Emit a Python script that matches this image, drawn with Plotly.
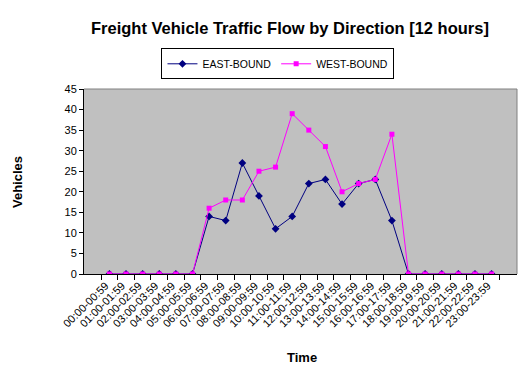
import plotly.graph_objects as go

categories = [f"{h:02d}:00-{h:02d}:59" for h in range(24)]
east_bound = [0, 0, 0, 0, 0, 0, 14, 13, 27, 19, 11, 14, 22, 23, 17, 22, 23, 13, 0, 0, 0, 0, 0, 0]
west_bound = [0, 0, 0, 0, 0, 0, 16, 18, 18, 25, 26, 39, 35, 31, 20, 22, 23, 34, 0, 0, 0, 0, 0, 0]
y_ticks = list(range(0, 50, 5))

fig = go.Figure()
fig.add_trace(go.Scatter(x=categories, y=east_bound, name="EAST-BOUND", mode="lines+markers",
                         line=dict(color="#000080", width=1),
                         marker=dict(symbol="diamond", size=6, color="#000080")))
fig.add_trace(go.Scatter(x=categories, y=west_bound, name="WEST-BOUND", mode="lines+markers",
                         line=dict(color="#FF00FF", width=1),
                         marker=dict(symbol="square", size=5, color="#FF00FF")))

FONT = "Arial, Liberation Sans"
fig.update_layout(
    width=530, height=375,
    margin=dict(l=84, r=13, t=89, b=101),
    paper_bgcolor="white", plot_bgcolor="#C0C0C0",
    font=dict(family=FONT, size=10, color="black"),
    legend=dict(orientation="h", x=0.448, xanchor="center", y=1.22, yanchor="top",
                bordercolor="black", borderwidth=1, bgcolor="white",
                font=dict(size=10.5), tracegroupgap=0),
    showlegend=True,
)
fig.update_xaxes(
    type="category", showline=True, linecolor="black", linewidth=1, mirror=False,
    ticks="outside", ticklen=5, tickcolor="black", tickson="boundaries",
    tickangle=-45, showgrid=False, tickfont=dict(size=11), automargin=False,
    ticklabelshift=-4,
)
fig.update_yaxes(
    range=[0, 45], tickvals=y_ticks, showline=True, linecolor="black", linewidth=1,
    ticks="outside", ticklen=4, tickcolor="black", showgrid=False, zeroline=False,
    tickfont=dict(size=11), automargin=False,
)
# titles
fig.add_annotation(text="<b>Freight Vehicle Traffic Flow by Direction [12 hours]</b>",
                   xref="paper", yref="paper", x=(290 - 84) / 433, y=1 + (89 - 28) / 185,
                   xanchor="center", yanchor="middle", showarrow=False,
                   font=dict(size=16.5, family=FONT))
fig.add_annotation(text="<b>Time</b>", xref="paper", yref="paper",
                   x=(302 - 84) / 433, y=-(357 - 274) / 185,
                   xanchor="center", yanchor="middle", showarrow=False,
                   font=dict(size=13, family=FONT))
fig.add_annotation(text="<b>Vehicles</b>", xref="paper", yref="paper",
                   x=-(84 - 17) / 433, y=(274 - 182) / 185, textangle=-90,
                   xanchor="center", yanchor="middle", showarrow=False,
                   font=dict(size=13, family=FONT))
# plot area top and right border (gray)
fig.add_shape(type="line", xref="paper", yref="paper", x0=0, x1=1, y0=1, y1=1,
              line=dict(color="#808080", width=1))
fig.add_shape(type="line", xref="paper", yref="paper", x0=1, x1=1, y0=0, y1=1,
              line=dict(color="#808080", width=1))

fig.write_html("out.html", config={"displayModeBar": False},
               post_script="document.body.style.margin='0';document.body.style.overflow='hidden';")
